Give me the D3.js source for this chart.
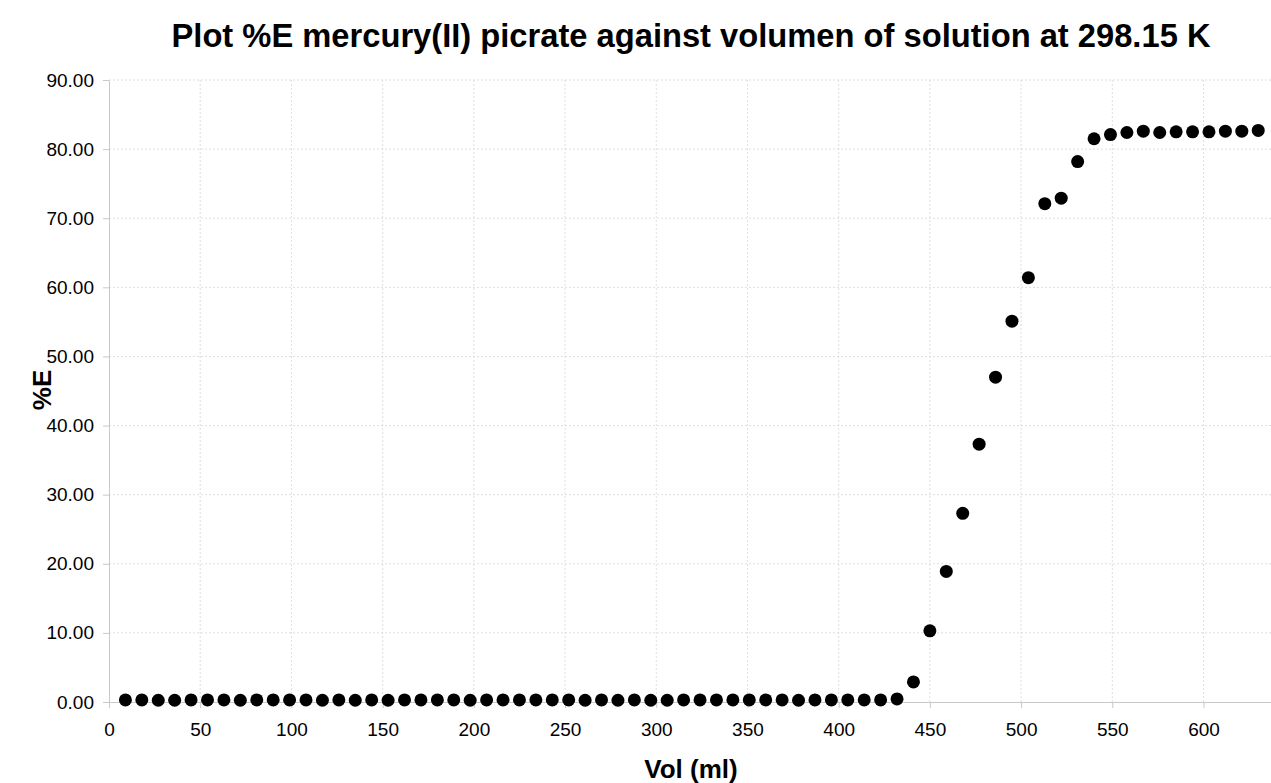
<!DOCTYPE html>
<html>
<head>
<meta charset="utf-8">
<script src="https://cdn.jsdelivr.net/npm/d3@7"></script>
<style>
  body { margin: 0; background: #fff; }
  svg { font-family: "Liberation Sans", Arial, Helvetica, sans-serif; }
  .grid line { stroke: #dedede; stroke-dasharray: 2,2; }
  .axis path, .axis line { stroke: #c8c8c8; }
  .axis text { fill: #000; font-size: 19px; }
</style>
</head>
<body>
<script>
var margin = {top: 80, right: 0, bottom: 81, left: 109},
    width = 1271 - margin.left - margin.right,
    height = 783 - margin.top - margin.bottom;

// data
var volumes = [9, 18, 27, 36, 45, 54, 63, 72, 81, 90,
               99, 108, 117, 126, 135, 144, 153, 162, 171, 180,
               189, 198, 207, 216, 225, 234, 243, 252, 261, 270,
               279, 288, 297, 306, 315, 324, 333, 342, 351, 360,
               369, 378, 387, 396, 405, 414, 423, 432, 441, 450,
               459, 468, 477, 486, 495, 504, 513, 522, 531, 540,
               549, 558, 567, 576, 585, 594, 603, 612, 621, 630];
var extraction = [0.30, 0.30, 0.25, 0.25, 0.30, 0.30, 0.30, 0.25, 0.30, 0.30,
                  0.30, 0.30, 0.25, 0.30, 0.25, 0.30, 0.25, 0.30, 0.30, 0.30,
                  0.30, 0.25, 0.30, 0.30, 0.30, 0.30, 0.30, 0.30, 0.25, 0.30,
                  0.25, 0.30, 0.25, 0.25, 0.30, 0.30, 0.30, 0.30, 0.30, 0.30,
                  0.30, 0.25, 0.30, 0.30, 0.30, 0.30, 0.30, 0.45, 2.90, 10.30,
                  18.90, 27.30, 37.30, 47.00, 55.10, 61.40, 72.10, 72.90, 78.20, 81.50,
                  82.10, 82.40, 82.60, 82.40, 82.50, 82.50, 82.50, 82.60, 82.60, 82.70];
var xTicks = [0, 50, 100, 150, 200, 250, 300, 350, 400, 450, 500, 550, 600];
var yTicks = [0, 10, 20, 30, 40, 50, 60, 70, 80, 90];

var data = volumes.map(function(v, i) { return {vol: v, pe: extraction[i]}; });

var xScale = d3.scaleLinear().domain([0, 637]).range([0, width]),
    yScale = d3.scaleLinear().domain([0, 90]).range([height, 0]);

var svg = d3.select("body").append("svg")
    .attr("width", 1271)
    .attr("height", 783);

var g = svg.append("g")
    .attr("transform", "translate(" + margin.left + "," + margin.top + ")");

// gridlines
g.append("g").attr("class", "grid")
  .selectAll("line").data(yTicks.slice(1)).enter().append("line")
    .attr("x1", 0).attr("x2", width)
    .attr("y1", function(d) { return yScale(d); })
    .attr("y2", function(d) { return yScale(d); });
g.append("g").attr("class", "grid")
  .selectAll("line").data(xTicks.slice(1)).enter().append("line")
    .attr("x1", function(d) { return xScale(d); })
    .attr("x2", function(d) { return xScale(d); })
    .attr("y1", 0).attr("y2", height);

// axes
g.append("g")
    .attr("class", "axis")
    .attr("transform", "translate(0," + height + ")")
    .call(d3.axisBottom(xScale).tickValues(xTicks).tickSize(6).tickSizeOuter(0).tickPadding(15));

g.append("g")
    .attr("class", "axis")
    .call(d3.axisLeft(yScale).tickValues(yTicks).tickFormat(d3.format(".2f")).tickSize(6).tickSizeOuter(0).tickPadding(9));

// dots
g.selectAll(".dot")
    .data(data)
  .enter().append("circle")
    .attr("class", "dot")
    .attr("cx", function(d) { return xScale(d.vol); })
    .attr("cy", function(d) { return yScale(d.pe); })
    .attr("r", 6.5)
    .style("fill", "#000");

// title and labels
svg.append("text")
    .attr("x", 691).attr("y", 47)
    .style("text-anchor", "middle")
    .style("font-weight", "bold")
    .style("font-size", "32.7px")
    .text("Plot %E mercury(II) picrate against volumen of solution at 298.15 K");

svg.append("text")
    .attr("x", 691).attr("y", 778)
    .style("text-anchor", "middle")
    .style("font-weight", "bold")
    .style("font-size", "26px")
    .text("Vol (ml)");

svg.append("text")
    .attr("transform", "translate(51,390) rotate(-90)")
    .style("text-anchor", "middle")
    .style("font-weight", "bold")
    .style("font-size", "26px")
    .text("%E");
</script>
</body>
</html>
